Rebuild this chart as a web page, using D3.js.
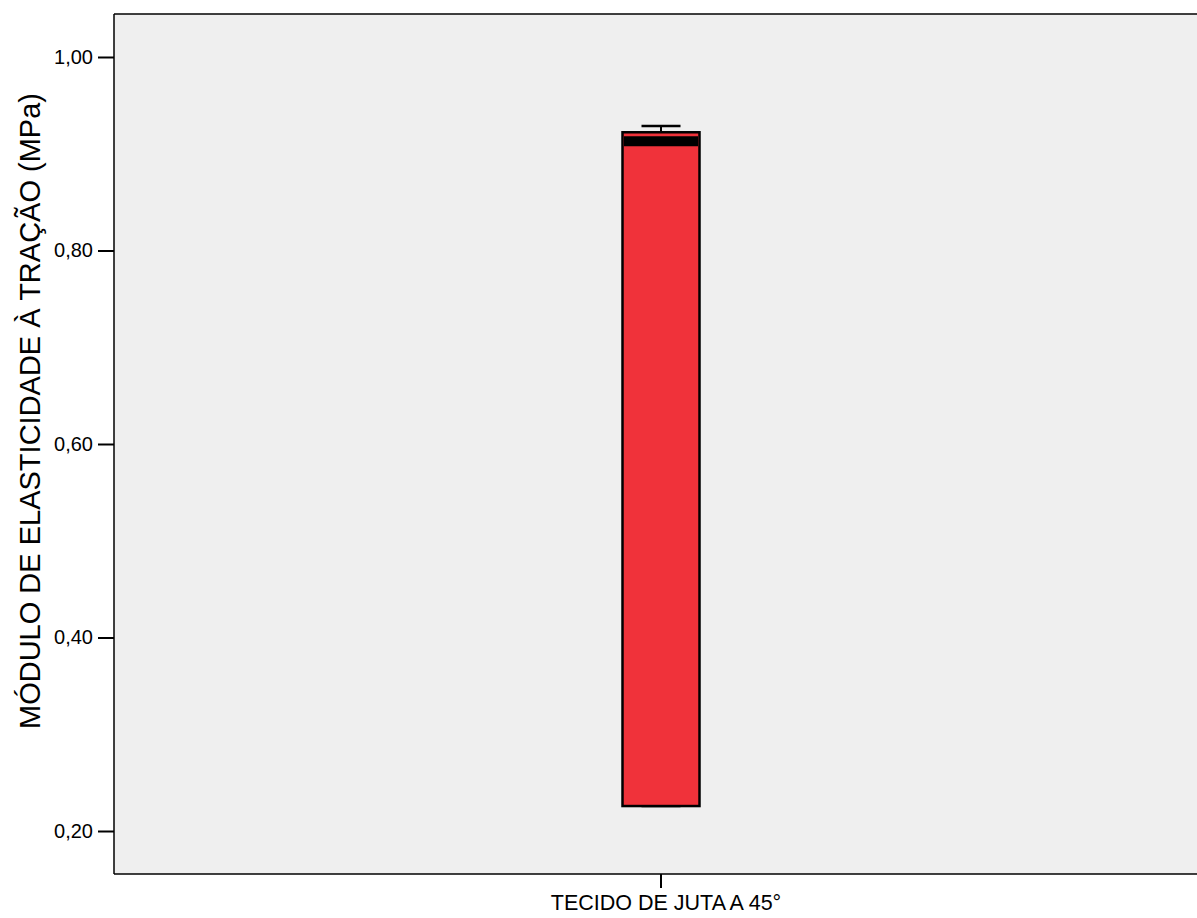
<!DOCTYPE html>
<html>
<head>
<meta charset="utf-8">
<script src="https://cdn.jsdelivr.net/npm/d3@7"></script>
<style>
  html, body { margin: 0; padding: 0; background: #ffffff; }
  svg { display: block; }
  text { font-family: "Liberation Sans", Arial, sans-serif; fill: #000; }
</style>
</head>
<body>
<svg id="chart" width="1197" height="918"></svg>
<script>
// Box plot summary for one group
const categories = ["TECIDO DE JUTA A 45°"];
const whiskerLow = [0.2258];
const q1 = [0.2258];
const median = [0.913];
const q3 = [0.9222];
const whiskerHigh = [0.9287];
const yTicks = [0.2, 0.4, 0.6, 0.8, 1.0];
const yTitle = "MÓDULO DE ELASTICIDADE À TRAÇÃO (MPa)";

const data = categories.map((c, i) => ({
  cat: c, lo: whiskerLow[i], q1: q1[i], med: median[i], q3: q3[i], hi: whiskerHigh[i]
}));

const svg = d3.select("#chart");
const plot = { left: 114, top: 14, right: 1197, bottom: 874 };

const y = d3.scaleLinear().domain([0.15556, 1.04444]).range([plot.bottom, plot.top]);
const x = d3.scaleBand().domain(categories).range([plot.left, 1208]).paddingInner(0).paddingOuter(0);

// plot area background
svg.append("rect")
  .attr("x", plot.left).attr("y", plot.top)
  .attr("width", plot.right - plot.left).attr("height", plot.bottom - plot.top)
  .attr("fill", "#efefef");

// top frame line
svg.append("line").attr("x1", plot.left).attr("x2", plot.right)
  .attr("y1", plot.top).attr("y2", plot.top).attr("stroke", "#000").attr("stroke-width", 1.5);

// y axis
const yAxis = d3.axisLeft(y).tickValues(yTicks).tickSize(16).tickPadding(5)
  .tickFormat(d => d3.format(".2f")(d).replace(".", ","));
const gy = svg.append("g").attr("transform", `translate(${plot.left},0)`).call(yAxis);
gy.select(".domain").remove();
gy.selectAll(".tick line").attr("stroke", "#000").attr("stroke-width", 2);
gy.selectAll(".tick text").attr("font-size", 20).style("font-family", "'Liberation Sans', Arial, sans-serif");
svg.append("line").attr("x1", plot.left).attr("x2", plot.left)
  .attr("y1", plot.top).attr("y2", plot.bottom).attr("stroke", "#000").attr("stroke-width", 1.5);

// x axis
const xAxis = d3.axisBottom(x).tickSize(14).tickPadding(7);
const gx = svg.append("g").attr("transform", `translate(0,${plot.bottom})`).call(xAxis);
gx.select(".domain").remove();
gx.selectAll(".tick line").attr("stroke", "#000").attr("stroke-width", 2);
gx.selectAll(".tick text").attr("font-size", 21.5).attr("dx", 5).style("font-family", "'Liberation Sans', Arial, sans-serif");
svg.append("line").attr("x1", plot.left).attr("x2", plot.right)
  .attr("y1", plot.bottom).attr("y2", plot.bottom).attr("stroke", "#000").attr("stroke-width", 1.5);

// y title
svg.append("text")
  .attr("transform", `translate(40,411) rotate(-90)`)
  .attr("text-anchor", "middle")
  .attr("font-size", 29)
  .text(yTitle);

// boxes
const boxW = 77, capW = 39;
const g = svg.append("g");
data.forEach(d => {
  const cx = x(d.cat) + x.bandwidth() / 2;
  // whiskers
  g.append("line").attr("x1", cx).attr("x2", cx).attr("y1", y(d.hi)).attr("y2", y(d.q3))
    .attr("stroke", "#000").attr("stroke-width", 2);
  g.append("line").attr("x1", cx - capW / 2).attr("x2", cx + capW / 2).attr("y1", y(d.hi)).attr("y2", y(d.hi))
    .attr("stroke", "#000").attr("stroke-width", 2.5);
  g.append("line").attr("x1", cx).attr("x2", cx).attr("y1", y(d.q1)).attr("y2", y(d.lo))
    .attr("stroke", "#000").attr("stroke-width", 2);
  g.append("line").attr("x1", cx - capW / 2).attr("x2", cx + capW / 2).attr("y1", y(d.lo)).attr("y2", y(d.lo))
    .attr("stroke", "#000").attr("stroke-width", 2.5);
  // box
  g.append("rect")
    .attr("x", cx - boxW / 2).attr("y", y(d.q3))
    .attr("width", boxW).attr("height", y(d.q1) - y(d.q3))
    .attr("fill", "#f0323a").attr("stroke", "#000").attr("stroke-width", 2.5);
  // median
  g.append("line").attr("x1", cx - boxW / 2 + 1.5).attr("x2", cx + boxW / 2 - 1.5)
    .attr("y1", y(d.med)).attr("y2", y(d.med))
    .attr("stroke", "#000").attr("stroke-width", 10);
});
</script>
</body>
</html>
